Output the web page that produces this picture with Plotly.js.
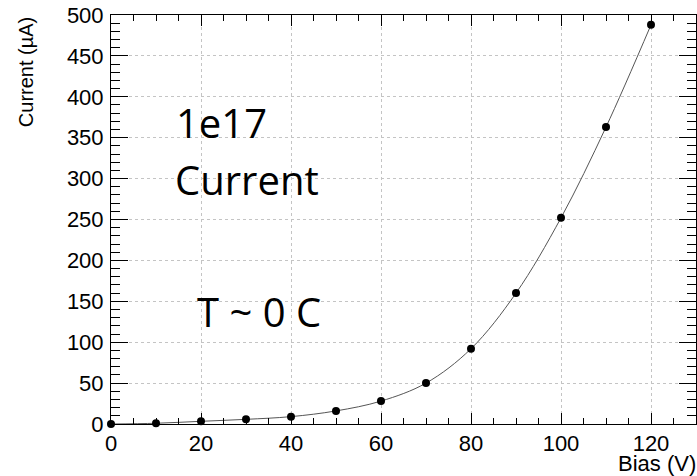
<!DOCTYPE html>
<html>
<head>
<meta charset="utf-8">
<script src="https://cdn.plot.ly/plotly-3.0.1.min.js"></script>
<style>html,body{margin:0;padding:0;background:#fff;}#chart{width:697px;height:476px;}</style>
</head>
<body>
<div id="chart"></div>
<script>
const biasV = [0, 10, 20, 30, 40, 50, 60, 70, 80, 90, 100, 110, 120];
const currentUA = [0, 0.9, 3.3, 5.7, 9.0, 16, 28, 50, 92, 160, 252, 363, 488];
const xTickVals = [0, 20, 40, 60, 80, 100, 120];
const yTickVals = [0, 50, 100, 150, 200, 250, 300, 350, 400, 450, 500];
const labelText = ["1e17", "Current", "T ~ 0 C"];
const xTitle = "Bias (V)";
const yTitle = "Current (µA)";

const tickFont = {family: "Liberation Sans, Arial, sans-serif", size: 22, color: "#000"};
const noteFont = {family: "Open Sans, Noto Sans, sans-serif", size: 40, color: "#000"};

const traces = [{
  x: biasV, y: currentUA, type: "scatter", mode: "lines+markers",
  line: {shape: "spline", color: "#555", width: 1},
  marker: {color: "#000", size: 8},
  cliponaxis: false, hoverinfo: "skip"
}];

const axisCommon = {
  showline: true, linecolor: "#000", linewidth: 1, mirror: "allticks",
  ticks: "inside", tickcolor: "#000", tickwidth: 1,
  showgrid: true, gridcolor: "#c4c4c4", griddash: "dot", gridwidth: 1,
  zeroline: false, tickfont: tickFont, tickmode: "array"
};

const layout = {
  width: 697, height: 476,
  margin: {l: 111, r: 1, t: 15, b: 52},
  paper_bgcolor: "#fff", plot_bgcolor: "#fff",
  showlegend: false,
  xaxis: Object.assign({}, axisCommon, {
    range: [0, 130], tickvals: xTickVals, ticktext: xTickVals.map(String), ticklen: 11,
    ticklabelstandoff: 0,
    minor: {dtick: 5, tick0: 0, ticks: "inside", ticklen: 6, tickcolor: "#000", showgrid: false}
  }),
  yaxis: Object.assign({}, axisCommon, {
    range: [0, 500], tickvals: yTickVals, ticktext: yTickVals.map(String), ticklen: 17,
    ticklabelstandoff: 2,
    minor: {dtick: 10, tick0: 0, ticks: "inside", ticklen: 9, tickcolor: "#000", showgrid: false}
  }),
  annotations: [
    {text: labelText[0], xref: "x", yref: "y", x: 14.0, y: 369, xanchor: "left", yanchor: "middle", showarrow: false, font: noteFont},
    {text: labelText[1], xref: "x", yref: "y", x: 13.8, y: 299, xanchor: "left", yanchor: "middle", showarrow: false, font: noteFont},
    {text: labelText[2], xref: "x", yref: "y", x: 18.6, y: 138, xanchor: "left", yanchor: "middle", showarrow: false, font: noteFont},
    {text: xTitle, xref: "paper", yref: "paper", x: 1.002, y: -0.13, xanchor: "right", yanchor: "bottom", showarrow: false,
     borderpad: 0, font: {family: "Liberation Sans, Arial, sans-serif", size: 22, color: "#000"}},
    {text: yTitle, xref: "paper", yref: "paper", x: -0.145, y: 1.0, xanchor: "center", yanchor: "top", textangle: -90, showarrow: false,
     font: {family: "Liberation Sans, Arial, sans-serif", size: 20, color: "#000"}}
  ]
};

Plotly.newPlot("chart", traces, layout, {staticPlot: true, displayModeBar: false});
</script>
</body>
</html>
